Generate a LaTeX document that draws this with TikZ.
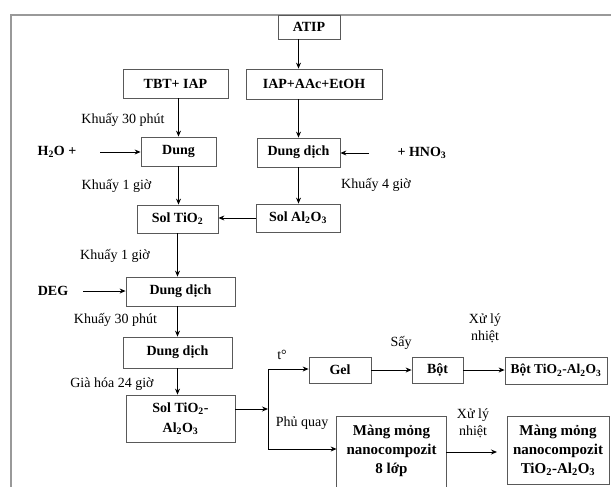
\documentclass[tikz,border=0pt]{standalone}
\usepackage{fontspec}
\setmainfont{Liberation Serif}
\usetikzlibrary{arrows.meta}
\newcommand{\sbs}[1]{\textsubscript{#1}}
\begin{document}
\begin{tikzpicture}[x=1pt,y=-1pt,
  box/.style={draw=black!65, line width=0.8pt, fill=white, inner sep=1pt, align=center,
    font=\bfseries\fontsize{14}{17}\selectfont},
  lbl/.style={inner sep=0pt, align=center, font=\fontsize{14}{17}\selectfont},
  blbl/.style={inner sep=0pt, align=center, font=\bfseries\fontsize{14}{17}\selectfont},
  arr/.style={draw=black, line width=0.9pt, -{Stealth[length=6pt,width=5pt]}},
  ln/.style={draw=black, line width=0.9pt},
  frameline/.style={draw=black!40, line width=1.6pt}]
\useasboundingbox (0,0) rectangle (611,487);
\fill[white] (0,0) rectangle (611,487);
\draw[frameline] (11,500) -- (11,15) -- (620,15);

% boxes
\node[box, minimum width=62pt, minimum height=24pt] (atip) at (309,27) {ATIP};
\node[box, minimum width=105pt, minimum height=29pt] (tbt) at (175.5,83.5) {TBT+ IAP};
\node[box, minimum width=136pt, minimum height=30pt] (iap) at (314,84) {IAP+AAc+EtOH};
\node[box, minimum width=75pt, minimum height=29pt] (dung) at (178.5,151.5) {Dung};
\node[box, minimum width=83pt, minimum height=29pt] (dd1) at (298.5,152.5) {Dung dịch};
\node[box, minimum width=81pt, minimum height=28pt] (soltio) at (177.5,219) {Sol TiO\sbs{2}};
\node[box, minimum width=84pt, minimum height=28pt] (solal) at (298,218) {Sol Al\sbs{2}O\sbs{3}};
\node[box, minimum width=109pt, minimum height=29pt] (dd2) at (180.5,291.5) {Dung dịch};
\node[box, minimum width=109pt, minimum height=31pt] (dd3) at (177.5,352.5) {Dung dịch};
\node[box, minimum width=109pt, minimum height=47pt, font=\bfseries\fontsize{14}{20}\selectfont] (solmix) at (180.5,418.5) {Sol TiO\sbs{2}-\\Al\sbs{2}O\sbs{3}};
\node[box, minimum width=62pt, minimum height=26pt] (gel) at (340,370) {Gel};
\node[box, minimum width=51pt, minimum height=26pt] (bot) at (437.5,370) {Bột};
\node[box, minimum width=102pt, minimum height=27pt, font=\bfseries\fontsize{13.5}{15}\selectfont] (bottio) at (556,370.5) {Bột TiO\sbs{2}-Al\sbs{2}O\sbs{3}};
\node[box, draw=none, fill=none, minimum width=109pt, minimum height=68pt, font=\bfseries\fontsize{15}{19}\selectfont] (mang1) at (391.5,451) {Màng mỏng\\nanocompozit\\8 lớp};
\draw[draw=black!65, line width=0.8pt] ([yshift=-20pt]mang1.south west) -- (mang1.north west) -- (mang1.north east) -- ([yshift=-20pt]mang1.south east);
\node[box, minimum width=102pt, minimum height=68pt, font=\bfseries\fontsize{15}{19}\selectfont] (mang2) at (558,450) {Màng mỏng\\nanocompozit\\TiO\sbs{2}-Al\sbs{2}O\sbs{3}};

% side labels
\node[blbl] (h2o) at (57,152) {H\sbs{2}O +};
\node[blbl] (hno) at (422,153) {+ HNO\sbs{3}};
\node[blbl] (deg) at (53,291) {DEG};
\node[lbl] (k1) at (123,120) {Khuấy 30 phút};
\node[lbl] (k2) at (116.5,186) {Khuấy 1 giờ};
\node[lbl] (k3) at (376,185) {Khuấy 4 giờ};
\node[lbl] (k4) at (115,256) {Khuấy 1 giờ};
\node[lbl] (k5) at (115.5,320) {Khuấy 30 phút};
\node[lbl] (k6) at (112,384) {Già hóa 24 giờ};
\node[lbl] (tdeg) at (282,355) {t°};
\node[lbl] (phu) at (302,423) {Phủ quay};
\node[lbl] (say) at (401,343) {Sấy};
\node[lbl] (xl1) at (485,328) {Xử lý\\nhiệt};
\node[lbl] (xl2) at (473,423) {Xử lý\\nhiệt};

% free-end coordinates
\coordinate (h2oa) at (100,152);
\coordinate (hnoa) at (369,153);
\coordinate (dega) at (83,291);
\coordinate (splitm) at (268,409);
\coordinate (splitt) at (268,369);
\coordinate (splitb) at (268,449);
\coordinate (m2a) at (497,452);

% connectors
\draw[arr] (atip.south -| dd1) -- (iap.north -| dd1);
\draw[arr] (iap.south -| dd1) -- (dd1.north);
\draw[arr] (dd1.south) -- (dd1.south |- solal.north);
\draw[arr] (tbt.south -| dung) -- (dung.north);
\draw[arr] (dung.south) -- (dung.south |- soltio.north);
\draw[arr] (h2oa) -- (h2oa -| dung.west);
\draw[arr] (hnoa) -- (hnoa -| dd1.east);
\draw[arr] (solal.west) -- (solal.west -| soltio.east);
\draw[arr] (soltio.south) -- (soltio.south |- dd2.north);
\draw[arr] (dega) -- (dega -| dd2.west);
\draw[arr] (dd2.south -| dd3) -- (dd3.north);
\draw[arr] (dd3.south) -- (dd3.south |- solmix.north);
\draw[arr] (solmix.east |- splitm) -- (splitm);
\draw[ln] (splitt) -- (splitb);
\draw[arr] (splitt) -- (splitt -| gel.west);
\draw[arr] (splitb) -- (splitb -| mang1.west);
\draw[arr] (gel.east) -- (bot.west);
\draw[arr] (bot.east) -- (bot.east -| bottio.west);
\draw[arr] (mang1.east |- m2a) -- (m2a);
\end{tikzpicture}
\end{document}
